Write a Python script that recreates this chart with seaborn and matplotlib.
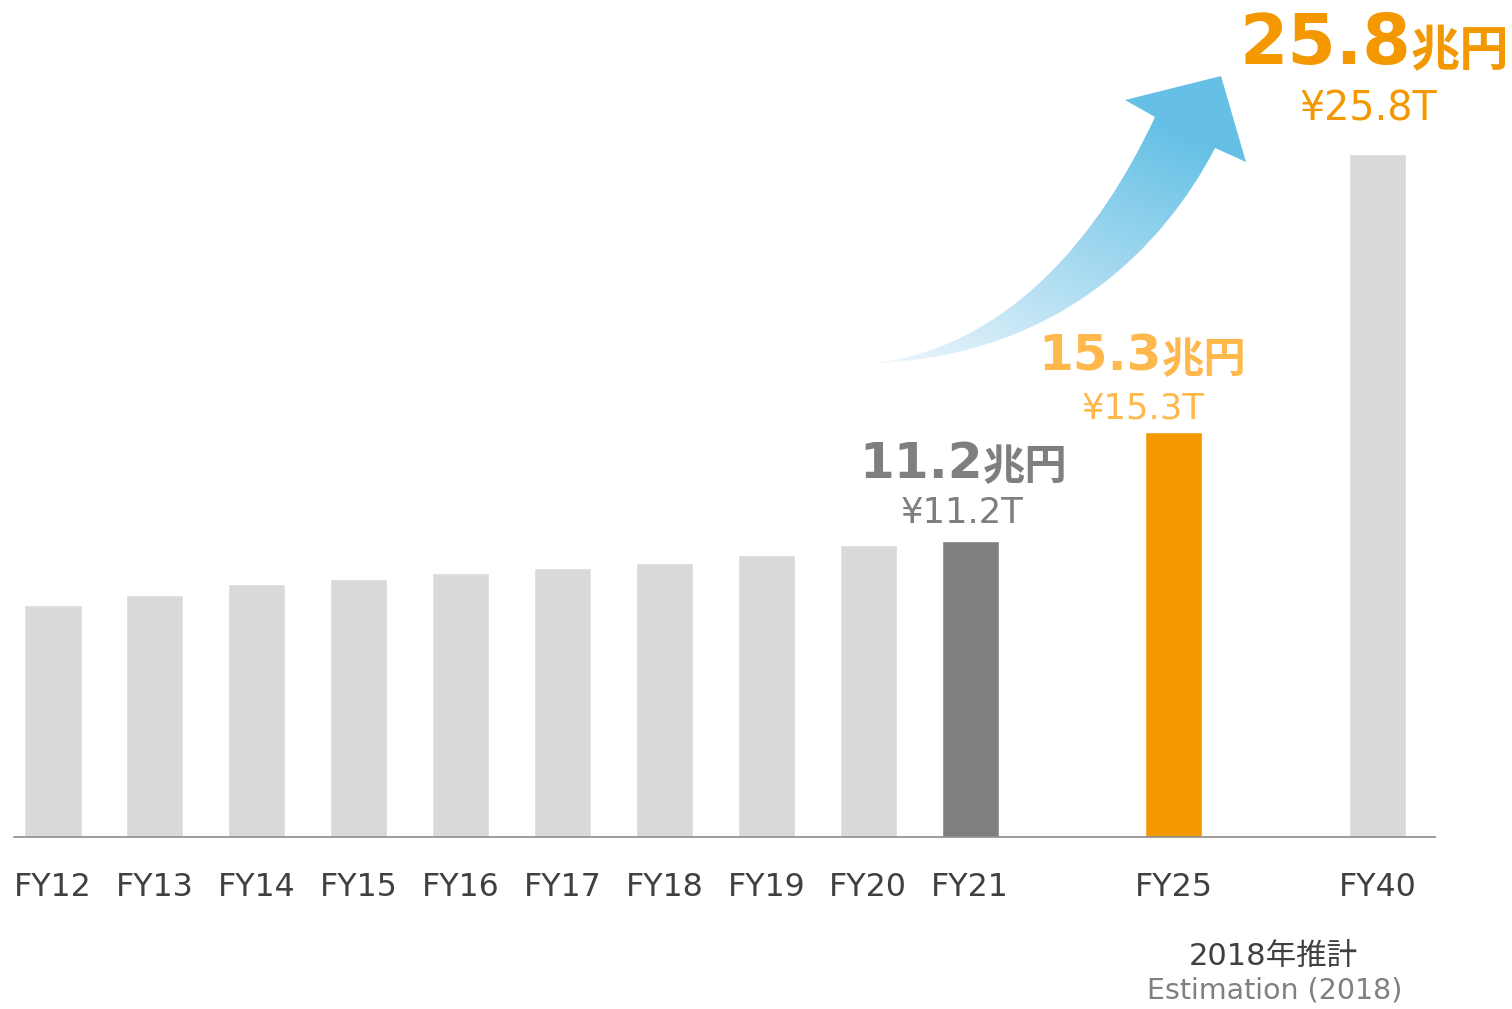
import numpy as np
import pandas as pd
import matplotlib
matplotlib.use("Agg")
import matplotlib.pyplot as plt
from matplotlib.path import Path
from matplotlib.patches import PathPatch
import seaborn as sns

# ---------------- data ----------------
years = ["FY12", "FY13", "FY14", "FY15", "FY16", "FY17", "FY18", "FY19",
         "FY20", "FY21", "FY25", "FY40"]
values = [8.75, 9.13, 9.55, 9.76, 9.97, 10.15, 10.34, 10.66, 11.02, 11.2, 15.3, 25.8]
order = ["FY12", "FY13", "FY14", "FY15", "FY16", "FY17", "FY18", "FY19",
         "FY20", "FY21", " ", "FY25", "  ", "FY40"]
bar_colors = {y: "#d9d9d9" for y in years}
bar_colors["FY21"] = "#7f7f7f"
bar_colors["FY25"] = "#f39800"

hl_years = ["FY21", "FY25", "FY40"]
hl_values = [11.2, 15.3, 25.8]
hl_main = ["11.2", "15.3", "25.8"]
hl_unit = "兆円"
hl_sub = ["¥11.2T", "¥15.3T", "¥25.8T"]
hl_colors = ["#7f7f7f", "#ffb84c", "#f39800"]

note_jp = "2018年推計"
note_en = "Estimation (2018)"

df = pd.DataFrame({"year": years, "value": values})

# ---------------- figure ----------------
sns.set_theme(style="white")
plt.rcParams["font.family"] = ["DejaVu Sans", "Noto Sans CJK JP"]

W, H = 1512, 1009
fig = plt.figure(figsize=(W / 100, H / 100), dpi=100)
fig.patch.set_facecolor("white")

x0px, step = 53.0, 101.9
base_px, scale = 836.8, 26.45
left_px, right_px = 14.0, 1435.0
ytop = 28.0
ax = fig.add_axes([left_px / W, (H - base_px) / H,
                   (right_px - left_px) / W, ytop * scale / H])

sns.barplot(data=df, x="year", y="value", order=order, hue="year",
            palette=bar_colors, saturation=1, width=0.56, legend=False, ax=ax)

ax.set_xlim((left_px - x0px) / step, (right_px - x0px) / step)
ax.set_ylim(0, ytop)
ax.set_xlabel("")
ax.set_ylabel("")
ax.set_yticks([])
for s in ["top", "left", "right"]:
    ax.spines[s].set_visible(False)
ax.spines["bottom"].set_color("#8c8c8c")
ax.spines["bottom"].set_linewidth(1.2)
ax.spines["bottom"].set_zorder(5)
ax.tick_params(axis="x", length=0, pad=25.5, labelsize=22.8, labelcolor="#404040")
ax.set_facecolor("none")

# ---------------- highlight labels ----------------
main_specs = {  # num right offset, num baseline above top, num size, unit size, sub dx, sub dy, sub size
    "FY21": (13, 63, 36, 30.5, -8, 18, 25.5),
    "FY25": (-12, 62, 36, 30.5, -31, 14, 25.5),
    "FY40": (33, 90, 50, 35.5, -9, 34, 28.5),
}
for yr, val, num, sub, col in zip(hl_years, hl_values, hl_main, hl_sub, hl_colors):
    i = order.index(yr)
    dx, dy, nsz, usz, sdx, sdy, ssz = main_specs[yr]
    ax.annotate(num, xy=(i, val), xytext=(dx, dy), textcoords="offset pixels",
                ha="right", va="baseline", fontsize=nsz, fontweight="bold",
                color=col, family="DejaVu Sans", annotation_clip=False)
    ax.annotate(hl_unit, xy=(i, val), xytext=(dx, dy - 2), textcoords="offset pixels",
                ha="left", va="baseline", fontsize=usz, fontweight="bold",
                color=col, family=["Noto Sans CJK JP"], annotation_clip=False)
    ax.annotate(sub, xy=(i, val), xytext=(sdx, sdy), textcoords="offset pixels",
                ha="center", va="baseline", fontsize=ssz,
                color=col, family="DejaVu Sans", annotation_clip=False)

# notes under FY25/FY40
xc = (order.index("FY25") + order.index("FY40")) / 2.0
ax.annotate(note_jp, xy=(xc, 0), xytext=(-2, -(965 - base_px)), textcoords="offset pixels",
            ha="center", va="baseline", fontsize=22, color="#404040",
            family=["DejaVu Sans", "Noto Sans CJK JP"], annotation_clip=False)
ax.annotate(note_en, xy=(xc, 0), xytext=(-1, -(998 - base_px)), textcoords="offset pixels",
            ha="center", va="baseline", fontsize=20.5, color="#808080",
            family="DejaVu Sans", annotation_clip=False)

# ---------------- growth arrow (decoration) ----------------
ov = fig.add_axes([0, 0, 1, 1])
ov.set_xlim(0, W)
ov.set_ylim(H, 0)
ov.axis("off")
ov.patch.set_alpha(0)

verts = [(877, 363), (1010, 345), (1100, 235), (1155, 117),
         (1125, 100), (1221, 76), (1246, 162), (1215, 148),
         (1165, 245), (1060, 355), (877, 363), (877, 363)]
codes = [Path.MOVETO, Path.CURVE4, Path.CURVE4, Path.CURVE4,
         Path.LINETO, Path.LINETO, Path.LINETO, Path.LINETO,
         Path.CURVE4, Path.CURVE4, Path.CURVE4, Path.CLOSEPOLY]
patch = PathPatch(Path(verts, codes), facecolor="none", edgecolor="none")
ov.add_patch(patch)

gx0, gx1, gy0, gy1 = 860, 1260, 60, 380
xs = np.linspace(gx0, gx1, 400)
ys = np.linspace(gy0, gy1, 320)
XX, YY = np.meshgrid(xs, ys)
p0 = np.array([877.0, 365.0])
p1 = np.array([1010.0, 60.0])
d = p1 - p0
t = ((XX - p0[0]) * d[0] + (YY - p0[1]) * d[1]) / (d @ d)
t = np.clip(t, 0, 1)
c0 = np.array([0.93, 0.965, 0.99])
c1 = np.array([0.40, 0.755, 0.90])
img = c0[None, None, :] * (1 - t[..., None]) + c1[None, None, :] * t[..., None]
im = ov.imshow(img, extent=(gx0, gx1, gy1, gy0), origin="upper",
               interpolation="bilinear", aspect="auto", zorder=1)
im.set_clip_path(patch)

fig.savefig("out.png", dpi=100, facecolor="white")
